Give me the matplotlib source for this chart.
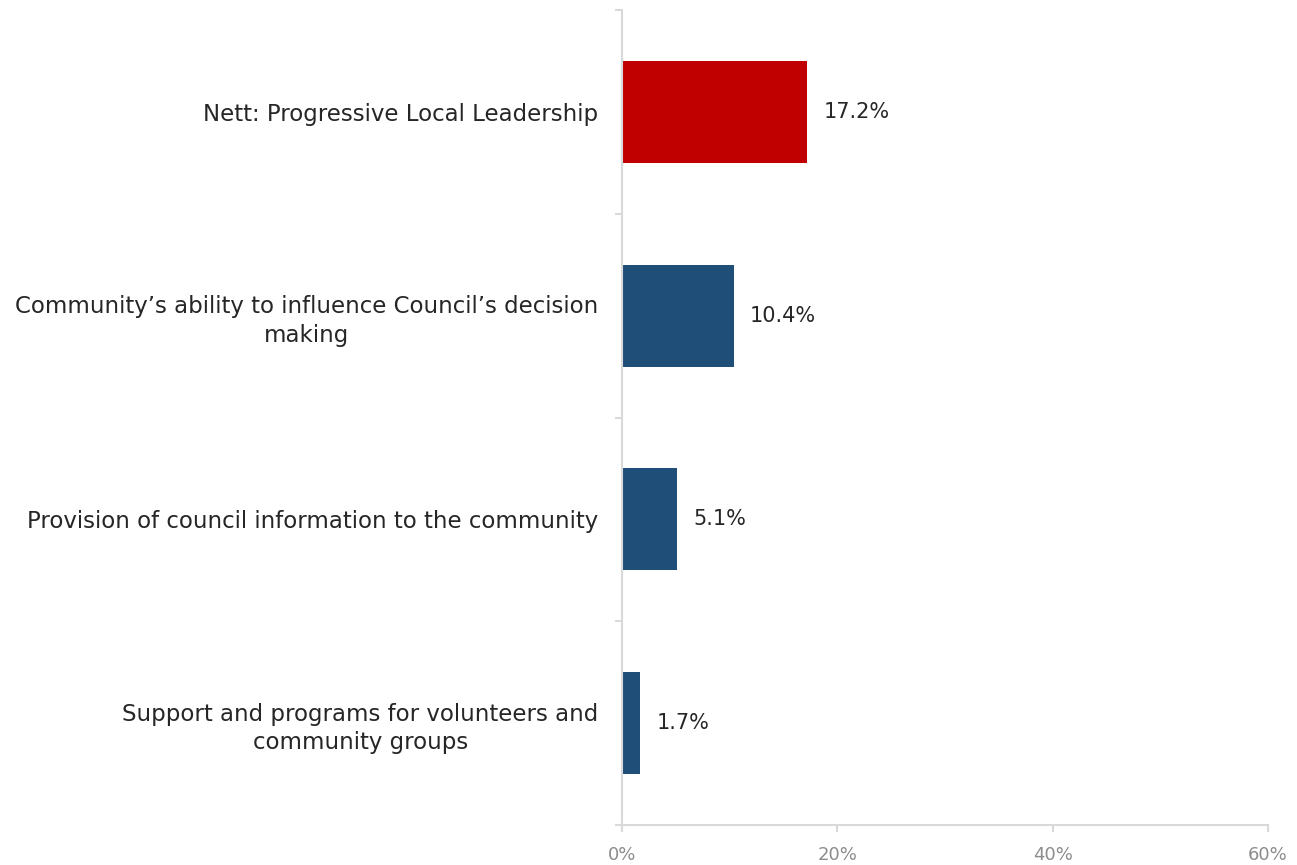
import matplotlib
matplotlib.use("Agg")
import matplotlib.pyplot as plt
from matplotlib.ticker import FixedLocator

categories = [
    "Nett: Progressive Local Leadership",
    "Community\u2019s ability to influence Council\u2019s decision\nmaking",
    "Provision of council information to the community",
    "Support and programs for volunteers and\ncommunity groups",
]
values = [17.2, 10.4, 5.1, 1.7]
colors = ["#C00000", "#1F4E79", "#1F4E79", "#1F4E79"]
xticks = [0, 20, 40, 60]
xticklabels = ["0%", "20%", "40%", "60%"]

plt.rcParams["font.family"] = ["DejaVu Sans"]

fig = plt.figure(figsize=(12.97, 8.65), dpi=100)
ax = fig.add_axes([0.4796, 0.0462, 0.4980, 0.9422])

y = list(range(len(categories)))
ax.barh(y, values, height=0.5, color=colors)
for yi, v in zip(y, values):
    ax.text(v + 1.5, yi, f"{v:.1f}%", va="center", ha="left", fontsize=15, color="#262626")

ax.set_xlim(0, 60)
ax.set_ylim(3.5, -0.5)
ax.set_xticks(xticks)
ax.set_xticklabels(xticklabels, fontsize=13, color="#8C8C8C")
ax.tick_params(axis="x", length=5, color="#D9D9D9", width=1.5, pad=10)

ax.yaxis.set_major_locator(FixedLocator([-0.5, 0.5, 1.5, 2.5, 3.5]))
ax.yaxis.set_minor_locator(FixedLocator(y))
ax.tick_params(axis="y", which="major", length=5, color="#D9D9D9", width=1.5, labelleft=False)
ax.tick_params(axis="y", which="minor", length=0, pad=17, labelsize=16.5, labelcolor="#262626")
for lab in ax.set_yticklabels(categories, minor=True, ha="right", multialignment="center"):
    lab.set_linespacing(1.3)

for s in ["top", "right"]:
    ax.spines[s].set_visible(False)
for s in ["left", "bottom"]:
    ax.spines[s].set_color("#D9D9D9")
    ax.spines[s].set_linewidth(1.5)

fig.savefig("out.png", dpi=100)
